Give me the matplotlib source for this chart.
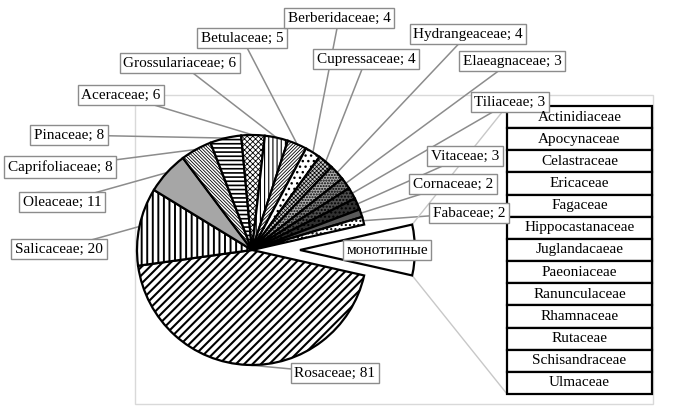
import numpy as np
import matplotlib.pyplot as plt
from matplotlib.patches import Rectangle

plt.rcParams['font.family'] = ['Liberation Serif', 'DejaVu Serif']
plt.rcParams['hatch.linewidth'] = 1.3

# данные: семейства и число видов (по часовой стрелке от Rosaceae)
families = ['Rosaceae', 'Salicaceae', 'Oleaceae', 'Caprifoliaceae', 'Pinaceae',
            'Aceraceae', 'Grossulariaceae', 'Betulaceae', 'Berberidaceae',
            'Cupressaceae', 'Hydrangeaceae', 'Elaeagnaceae', 'Tiliaceae',
            'Vitaceae', 'Cornaceae', 'Fabaceae', 'монотипные']
counts = [81, 20, 11, 8, 8, 6, 6, 5, 4, 4, 4, 3, 3, 3, 2, 2, 13]

# монотипные семейства (по одному виду)
monotypic = ['Actinidiaceae', 'Apocynaceae', 'Celastraceae', 'Ericaceae',
             'Fagaceae', 'Hippocastanaceae', 'Juglandacaeae', 'Paeoniaceae',
             'Ranunculaceae', 'Rhamnaceae', 'Rutaceae', 'Schisandraceae',
             'Ulmaceae']

# оформление секторов
faces = ['white', 'white', '#a6a6a6', 'white', 'white', 'white', 'white',
         'white', 'white', '#c8c8c8', '#b0b0b0', '#808080', '#505050', '#303030',
         '#595959', 'white', 'white']
hatches = ['////', '|||', '', '\\' * 10, '----', 'x' * 6, '||||', '/' * 10, '...',
           'x' * 8, '......', '......', '.....', '....', '', '....', '']
hatch_lw = [1.5, 1.4, 1, 0.6, 1.2, 0.6, 0.8, 0.6, 1, 0.5, 1, 1, 1, 1, 1, 1, 1]

# положение подписей (пиксели картинки, центр рамки)
label_xy = [(335, 373), (59, 249), (62, 202), (60, 167), (69, 135), (121, 95),
            (180, 63), (242, 38), (339, 18), (366, 59), (468, 34), (512, 61),
            (510, 102), (465, 156), (453, 184), (469, 213), (387, 250)]

W, H = 677, 417
cx, cy, R = 252, 250, 115

fig = plt.figure(figsize=(W / 100, H / 100), dpi=100)
ax = fig.add_axes([0, 0, 1, 1])

# рамка области построения
ax.add_patch(Rectangle((135, H - 404), 518, 309, fill=False,
                       ec='#d9d9d9', lw=1, zorder=0))

start = -360 * counts[-1] / sum(counts) / 2
explode = [0] * (len(counts) - 1) + [48]
wedges, _ = ax.pie(counts, colors=faces, hatch=hatches, startangle=start,
                   counterclock=False, center=(cx, H - cy), radius=R,
                   explode=explode, frame=True,
                   wedgeprops=dict(edgecolor='black', linewidth=1.6))
for w, hl in zip(wedges, hatch_lw):
    w.set_zorder(2)
    if hasattr(w, 'set_hatch_linewidth'):
        w.set_hatch_linewidth(hl)

# подписи с выносками
for i, (w, name, n) in enumerate(zip(wedges, families, counts)):
    x, y = label_xy[i]
    if name == 'монотипные':
        txt = name
    else:
        txt = f'{name}; {n}'
        tm = np.deg2rad((w.theta1 + w.theta2) / 2)
        ex = w.center[0] + R * np.cos(tm)
        ey = w.center[1] + R * np.sin(tm)
        ax.plot([x, ex], [H - y, ey], color='#8c8c8c', lw=1.1, zorder=1.5)
    ax.text(x, H - y, txt, ha='center', va='center', fontsize=11, zorder=4,
            bbox=dict(boxstyle='square,pad=0.24', fc='white', ec='#8c8c8c', lw=1))

# таблица монотипных семейств
tx0, tx1, ty0 = 507, 652, 106
row_h = 22.15
for k, name in enumerate(monotypic):
    ytop = ty0 + k * row_h
    ax.add_patch(Rectangle((tx0, H - ytop - row_h), tx1 - tx0, row_h,
                           fc='white', ec='black', lw=1.6, zorder=3))
    ax.text((tx0 + tx1) / 2, H - ytop - row_h / 2, name, ha='center',
            va='center', fontsize=11, zorder=4)

# линии от выдвинутого сектора к таблице
m = wedges[-1]
for ang, ty in [(m.theta2, ty0), (m.theta1, ty0 + len(monotypic) * row_h)]:
    a = np.deg2rad(ang)
    px = m.center[0] + m.r * np.cos(a)
    py = m.center[1] + m.r * np.sin(a)
    ax.plot([px, tx0], [py, H - ty], color='#c8c8c8', lw=1, zorder=1.5)

ax.set_xlim(0, W)
ax.set_ylim(0, H)
ax.set_aspect('equal')
ax.axis('off')

plt.savefig('out.png', dpi=100)
